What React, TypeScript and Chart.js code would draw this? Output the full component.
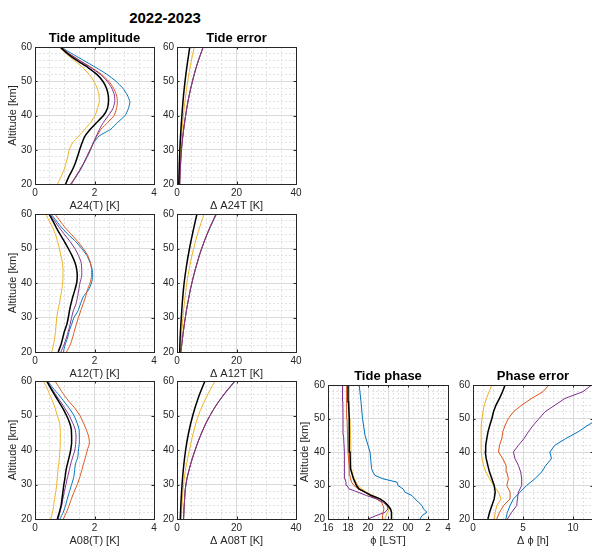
import React, { useEffect, useRef } from "react";
import { Chart, registerables } from "chart.js";
Chart.register(...registerables);

const FONT = "'Liberation Sans', Arial, Helvetica, sans-serif";
const TEXT = "#262626";
const BLUE = "#0072BD";
const RED = "#D95319";
const YELLOW = "#EDB120";
const PURPLE = "#7E2F8E";
const BLACK = "#000000";

// ---------- altitude grids ----------
const ALT2 = [20, 22, 24, 26, 28, 30, 32, 34, 36, 38, 40, 42, 44, 46, 48, 50, 52, 54, 56, 58, 60];
const ALT5 = [20, 25, 30, 35, 40, 45, 50, 55, 60];
const PHASE_ALT = [20, 21, 22, 23, 24, 25, 26, 27, 28, 29, 30, 31, 32, 33, 34, 35, 40, 45, 50, 55, 60];

// ---------- A24 amplitude [K] ----------
const A24_BLUE = [1.2, 1.37, 1.52, 1.64, 1.76, 1.87, 1.97, 2.15, 2.55, 2.78, 3.03, 3.14, 3.19, 3.1, 2.95, 2.72, 2.42, 2.05, 1.65, 1.25, 0.87];
const A24_RED = [1.2, 1.35, 1.5, 1.63, 1.75, 1.86, 1.96, 2.08, 2.22, 2.45, 2.66, 2.74, 2.77, 2.74, 2.64, 2.48, 2.24, 1.9, 1.52, 1.16, 0.86];
const A24_YELLOW = [0.76, 0.87, 0.97, 1.04, 1.1, 1.15, 1.26, 1.47, 1.68, 1.87, 2.02, 2.1, 2.16, 2.15, 2.09, 1.98, 1.82, 1.6, 1.33, 1.05, 0.82];
const A24_PURPLE = [1.23, 1.36, 1.5, 1.63, 1.74, 1.85, 1.96, 2.06, 2.17, 2.3, 2.47, 2.62, 2.68, 2.67, 2.58, 2.43, 2.2, 1.87, 1.5, 1.15, 0.86];
const A24_BLACK = [1.03, 1.13, 1.25, 1.35, 1.43, 1.5, 1.58, 1.68, 1.86, 2.08, 2.3, 2.43, 2.47, 2.46, 2.4, 2.28, 2.08, 1.78, 1.42, 1.1, 0.84];

// ---------- A24 error [K] ----------
const E24_BLUE = [0.9, 1.15, 1.5, 2.1, 2.9, 3.9, 5.2, 6.8, 8.8];
const E24_RED = [0.9, 1.15, 1.5, 2.1, 2.9, 3.9, 5.2, 6.8, 8.8];
const E24_YELLOW = [0.7, 0.9, 1.2, 1.6, 2.15, 2.8, 3.6, 4.6, 5.8];
const E24_PURPLE = [0.9, 1.15, 1.5, 2.1, 2.9, 3.9, 5.2, 6.8, 8.8];
const E24_BLACK = [0.6, 0.75, 0.95, 1.25, 1.65, 2.1, 2.7, 3.45, 4.3];

// ---------- A12 amplitude [K] ----------
const A12_BLUE = [0.95, 1.01, 1.09, 1.15, 1.23, 1.31, 1.45, 1.53, 1.62, 1.8, 1.9, 1.94, 1.92, 1.85, 1.74, 1.57, 1.37, 1.12, 0.9, 0.72, 0.54];
const A12_RED = [1.06, 1.18, 1.26, 1.32, 1.39, 1.46, 1.54, 1.62, 1.7, 1.76, 1.85, 1.9, 1.9, 1.86, 1.77, 1.62, 1.44, 1.23, 1.02, 0.84, 0.67];
const A12_YELLOW = [0.56, 0.62, 0.66, 0.69, 0.71, 0.73, 0.77, 0.82, 0.86, 0.9, 0.93, 0.94, 0.94, 0.92, 0.87, 0.82, 0.76, 0.69, 0.6, 0.48, 0.36];
const A12_PURPLE = [0.87, 0.97, 1.05, 1.12, 1.18, 1.23, 1.29, 1.38, 1.43, 1.47, 1.51, 1.57, 1.57, 1.55, 1.46, 1.34, 1.18, 1.0, 0.82, 0.66, 0.5];
const A12_BLACK = [0.78, 0.87, 0.93, 0.99, 1.07, 1.12, 1.16, 1.21, 1.27, 1.34, 1.4, 1.42, 1.4, 1.34, 1.24, 1.12, 0.99, 0.85, 0.72, 0.6, 0.47];

// ---------- A12 error [K] ----------
const E12_BLUE = [1.3, 2.0, 2.8, 3.8, 5.0, 6.5, 8.3, 10.6, 13.3];
const E12_RED = [1.3, 2.0, 2.8, 3.8, 5.0, 6.5, 8.3, 10.5, 13.1];
const E12_YELLOW = [1.2, 1.55, 2.0, 2.6, 3.3, 4.3, 5.6, 7.2, 9.1];
const E12_PURPLE = [1.3, 2.0, 2.8, 3.8, 5.0, 6.5, 8.3, 10.5, 13.1];
const E12_BLACK = [0.9, 1.1, 1.45, 1.85, 2.4, 3.2, 4.2, 5.4, 6.7];

// ---------- A08 amplitude [K] ----------
const A08_BLUE = [0.84, 0.95, 1.03, 1.09, 1.16, 1.23, 1.3, 1.33, 1.36, 1.44, 1.46, 1.49, 1.49, 1.48, 1.41, 1.31, 1.16, 0.98, 0.8, 0.6, 0.43];
const A08_RED = [0.95, 1.06, 1.15, 1.23, 1.32, 1.42, 1.5, 1.57, 1.63, 1.7, 1.76, 1.83, 1.8, 1.72, 1.62, 1.51, 1.35, 1.15, 0.97, 0.82, 0.67];
const A08_YELLOW = [0.53, 0.59, 0.63, 0.66, 0.7, 0.73, 0.75, 0.77, 0.8, 0.82, 0.84, 0.85, 0.85, 0.85, 0.82, 0.75, 0.68, 0.6, 0.5, 0.4, 0.28];
const A08_PURPLE = [0.78, 0.84, 0.9, 0.94, 0.99, 1.04, 1.09, 1.15, 1.2, 1.27, 1.34, 1.37, 1.38, 1.35, 1.26, 1.15, 1.01, 0.86, 0.7, 0.55, 0.41];
const A08_BLACK = [0.75, 0.82, 0.88, 0.91, 0.94, 0.97, 1.01, 1.04, 1.09, 1.15, 1.2, 1.23, 1.23, 1.22, 1.16, 1.06, 0.94, 0.8, 0.66, 0.52, 0.39];

// ---------- A08 error [K] ----------
const E08_BLUE = [2.2, 2.5, 3.0, 4.3, 6.1, 8.3, 11.1, 14.9, 19.6];
const E08_RED = [2.2, 2.5, 3.0, 4.3, 6.1, 8.3, 11.1, 14.8, 19.4];
const E08_YELLOW = [1.4, 1.75, 2.2, 3.0, 4.2, 5.5, 7.2, 9.7, 12.8];
const E08_PURPLE = [2.2, 2.5, 3.0, 4.3, 6.1, 8.3, 11.1, 14.8, 19.4];
const E08_BLACK = [1.1, 1.35, 1.7, 2.2, 2.9, 3.9, 5.3, 7.1, 9.4];

// ---------- Tide phase [LST, hours, 24+ = next day] ----------
const PH_BLUE = [25.2, 25.4, 25.9, 25.55, 25.4, 25.05, 24.7, 24.4, 23.7, 23.5, 23.0, 22.9, 21.5, 20.7, 20.5, 20.36, 20.2, 19.7, 19.45, 19.3, 19.12];
const PH_RED = [21.45, 21.45, 21.5, 21.6, 21.5, 21.35, 20.85, 20.2, 19.7, 19.0, 18.6, 18.35, 18.25, 18.2, 18.15, 18.1, 18.0, 17.95, 17.9, 17.88, 17.85];
const PH_YELLOW = [21.7, 21.8, 21.95, 22.15, 21.95, 21.7, 21.2, 20.5, 19.85, 19.35, 19.0, 18.8, 18.65, 18.5, 18.42, 18.35, 18.3, 18.25, 18.2, 18.15, 18.1];
const PH_PURPLE = [20.0, 20.8, 21.7, 22.0, 21.9, 21.5, 20.85, 19.85, 19.0, 18.1, 17.9, 17.8, 17.7, 17.68, 17.65, 17.63, 17.6, 17.55, 17.5, 17.48, 17.45];
const PH_BLACK = [22.35, 22.35, 22.35, 22.25, 22.0, 21.7, 21.2, 20.35, 19.7, 19.1, 18.85, 18.7, 18.55, 18.45, 18.35, 18.25, 18.2, 18.15, 18.1, 18.05, 18.0];

// ---------- Phase error [h] ----------
const PE_BLUE = [3.28, 3.44, 3.71, 4.04, 4.7, 5.36, 6.19, 6.85, 7.28, 7.85, 7.68, 8.18, 9.27, 10.5, 11.5, 12.6, 13.5, 14.3, 15.0, 15.6, 16.2];
const PE_RED = [2.38, 2.65, 3.05, 3.71, 3.71, 3.38, 3.54, 3.38, 3.31, 2.98, 2.55, 2.65, 2.88, 2.98, 3.21, 3.54, 4.04, 4.87, 5.86, 7.0, 7.6];
const PE_YELLOW = [2.15, 2.22, 2.38, 2.81, 2.55, 2.05, 1.66, 1.3, 1.05, 0.9, 0.83, 0.8, 0.8, 0.81, 0.85, 0.9, 1.0, 1.13, 1.35, 1.6, 1.89];
const PE_PURPLE = [3.44, 3.87, 4.37, 4.44, 4.54, 4.87, 4.87, 4.77, 4.54, 4.2, 4.04, 4.54, 5.1, 5.53, 6.03, 6.62, 7.2, 8.2, 9.2, 11.0, 11.85];
const PE_BLACK = [1.49, 1.66, 1.89, 2.12, 2.22, 2.12, 1.89, 1.65, 1.48, 1.32, 1.23, 1.27, 1.38, 1.5, 1.68, 1.89, 2.05, 2.3, 2.65, 2.95, 3.21];

type Series = { vals: number[]; color: string; width: number };

const mk = (b: number[], r: number[], y: number[], p: number[], k: number[]): Series[] => [
  { vals: b, color: BLUE, width: 1 },
  { vals: r, color: RED, width: 1 },
  { vals: y, color: YELLOW, width: 1 },
  { vals: p, color: PURPLE, width: 1 },
  { vals: k, color: BLACK, width: 1.5 },
];

interface PanelProps {
  left: number; top: number; width: number; height: number;
  xMin: number; xMax: number; xMajor: number; xMinor: number;
  xLabel: string; title?: string; yTitle?: string; yTitlePad?: number;
  alt: number[]; series: Series[]; tension?: number;
  fmt?: (v: number) => string;
}

const ML = 35, MT = 30, MR = 14, MB = 35;
const isMaj = (v: number, m: number) => Math.abs(v / m - Math.round(v / m)) < 1e-6;
const MAJOR_GRID = "#dadada";
const MINOR_GRID = "#e2e2e2";

function Panel(p: PanelProps) {
  const ref = useRef<HTMLCanvasElement>(null);
  const cw = ML + p.width + MR;
  const ch = MT + p.height + MB;
  useEffect(() => {
    if (!ref.current) return;
    const datasets = p.series.map((s) => ({
      data: p.alt.map((a, i) => ({ x: s.vals[i], y: a })),
      borderColor: s.color,
      backgroundColor: s.color,
      borderWidth: s.width,
      showLine: true,
      pointRadius: 0,
      fill: false,
      tension: p.tension ?? 0,
    })).reverse();
    const fmt = p.fmt ?? ((v: number) => String(v));
    const zeroPad = (s: any) => { s.paddingLeft = 0; s.paddingRight = 0; s.paddingTop = 0; s.paddingBottom = 0; };
    const frame = {
      id: "frame",
      afterDatasetsDraw(chart: any) {
        const { ctx, chartArea: a, scales } = chart;
        ctx.save();
        ctx.strokeStyle = TEXT;
        ctx.lineWidth = 1;
        ctx.strokeRect(a.left + 0.5, a.top + 0.5, a.right - a.left, a.bottom - a.top);
        ctx.beginPath();
        for (let v = p.xMin; v <= p.xMax + 1e-9; v += p.xMajor) {
          const px = Math.round(scales.x.getPixelForValue(v)) + 0.5;
          ctx.moveTo(px, a.bottom); ctx.lineTo(px, a.bottom - 2.5);
          ctx.moveTo(px, a.top); ctx.lineTo(px, a.top + 2.5);
        }
        for (let v = 20; v <= 60; v += 10) {
          const py = Math.round(scales.y.getPixelForValue(v)) + 0.5;
          ctx.moveTo(a.left, py); ctx.lineTo(a.left + 2.5, py);
          ctx.moveTo(a.right, py); ctx.lineTo(a.right - 2.5, py);
        }
        ctx.stroke();
        ctx.restore();
      },
    };
    const chart = new Chart(ref.current, {
      type: "scatter",
      data: { datasets },
      plugins: [frame],
      options: {
        responsive: false,
        animation: false,
        events: [],
        layout: { padding: { top: p.title ? 13.2 : MT, right: MR, left: 0, bottom: 0 } },
        plugins: {
          legend: { display: false },
          tooltip: { enabled: false },
          title: p.title
            ? { display: true, text: p.title, color: "#000", fullSize: false, font: { family: FONT, size: 13, weight: "bold" }, padding: { top: 0, bottom: 1.2 } }
            : { display: false },
        },
        scales: {
          x: {
            type: "linear",
            min: p.xMin,
            max: p.xMax,
            afterFit: (s: any) => { s.height = MB; zeroPad(s); },
            ticks: {
              stepSize: p.xMinor, autoSkip: false, maxRotation: 0, minRotation: 0, maxTicksLimit: 1000,
              padding: 3, color: TEXT, font: { family: FONT, size: 10 },
              callback: (v: any) => (isMaj(Number(v), p.xMajor) ? fmt(Number(v)) : ""),
            },
            grid: {
              drawTicks: false, lineWidth: 1,
              color: (c: any) => (c.tick && isMaj(c.tick.value, p.xMajor) ? MAJOR_GRID : MINOR_GRID),
            },
            border: { display: false, dash: (c: any) => (c.tick && isMaj(c.tick.value, p.xMajor) ? [] : [2, 2]) },
            title: { display: true, text: p.xLabel, color: TEXT, font: { family: FONT, size: 11 }, padding: { top: 0, bottom: 6.4 } },
          },
          y: {
            type: "linear",
            min: 20,
            max: 60,
            afterFit: (s: any) => { s.width = ML; zeroPad(s); },
            ticks: {
              stepSize: 2, autoSkip: false, maxTicksLimit: 1000,
              padding: 3, color: TEXT, font: { family: FONT, size: 10 },
              callback: (v: any) => (isMaj(Number(v), 10) ? String(v) : ""),
            },
            grid: {
              drawTicks: false, lineWidth: 1,
              color: (c: any) => (c.tick && isMaj(c.tick.value, 10) ? MAJOR_GRID : MINOR_GRID),
            },
            border: { display: false, dash: (c: any) => (c.tick && isMaj(c.tick.value, 10) ? [] : [2, 2]) },
            title: p.yTitle
              ? { display: true, text: p.yTitle, color: TEXT, font: { family: FONT, size: 11 }, padding: { top: p.yTitlePad ?? 6.7, bottom: 0 } }
              : { display: false },
          },
        },
      } as any,
    });
    return () => chart.destroy();
  }, []);
  return (
    <canvas
      ref={ref}
      width={cw}
      height={ch}
      style={{ position: "absolute", left: p.left - ML, top: p.top - MT, width: cw, height: ch }}
    />
  );
}

const phaseFmt = (v: number) => (v === 24 ? "00" : String(v >= 24 ? v - 24 : v));

export default function App() {
  const AMP = { xMin: 0, xMax: 4, xMajor: 2, xMinor: 0.5, alt: ALT2, tension: 0.15 };
  const ERR = { xMin: 0, xMax: 40, xMajor: 20, xMinor: 5, alt: ALT5, tension: 0.4 };
  const C1 = { left: 35, width: 119 };
  const C2 = { left: 177, width: 119 };
  return (
    <div style={{ position: "fixed", left: 0, top: 0, width: 592, height: 549, overflow: "hidden", background: "#fff" }}>
      <div style={{ position: "absolute", left: 0, top: 8, width: 330, textAlign: "center", fontFamily: FONT, fontWeight: "bold", fontSize: 15, lineHeight: "20px", color: "#000" }}>
        2022-2023
      </div>
      <Panel {...C1} {...AMP} top={47} height={137} title="Tide amplitude" yTitle="Altitude [km]" xLabel="A24(T) [K]" series={mk(A24_BLUE, A24_RED, A24_YELLOW, A24_PURPLE, A24_BLACK)} />
      <Panel {...C2} {...ERR} top={47} height={137} title="Tide error" xLabel="Δ A24T [K]" series={mk(E24_BLUE, E24_RED, E24_YELLOW, E24_PURPLE, E24_BLACK)} />
      <Panel {...C1} {...AMP} top={214} height={138} yTitle="Altitude [km]" xLabel="A12(T) [K]" series={mk(A12_BLUE, A12_RED, A12_YELLOW, A12_PURPLE, A12_BLACK)} />
      <Panel {...C2} {...ERR} top={214} height={138} xLabel="Δ A12T [K]" series={mk(E12_BLUE, E12_RED, E12_YELLOW, E12_PURPLE, E12_BLACK)} />
      <Panel {...C1} {...AMP} top={381} height={138} yTitle="Altitude [km]" xLabel="A08(T) [K]" series={mk(A08_BLUE, A08_RED, A08_YELLOW, A08_PURPLE, A08_BLACK)} />
      <Panel {...C2} {...ERR} top={381} height={138} xLabel="Δ A08T [K]" series={mk(E08_BLUE, E08_RED, E08_YELLOW, E08_PURPLE, E08_BLACK)} />
      <Panel left={328} width={120} top={385} height={134} xMin={16} xMax={28} xMajor={2} xMinor={0.5} fmt={phaseFmt} alt={PHASE_ALT}
        title="Tide phase" yTitle="Altitude [km]" yTitlePad={5.4} xLabel="ϕ [LST]" series={mk(PH_BLUE, PH_RED, PH_YELLOW, PH_PURPLE, PH_BLACK)} />
      <Panel left={473} width={120} top={385} height={134} xMin={0} xMax={12} xMajor={5} xMinor={1} alt={ALT2}
        title="Phase error" xLabel="Δ ϕ [h]" series={mk(PE_BLUE, PE_RED, PE_YELLOW, PE_PURPLE, PE_BLACK)} />
    </div>
  );
}
